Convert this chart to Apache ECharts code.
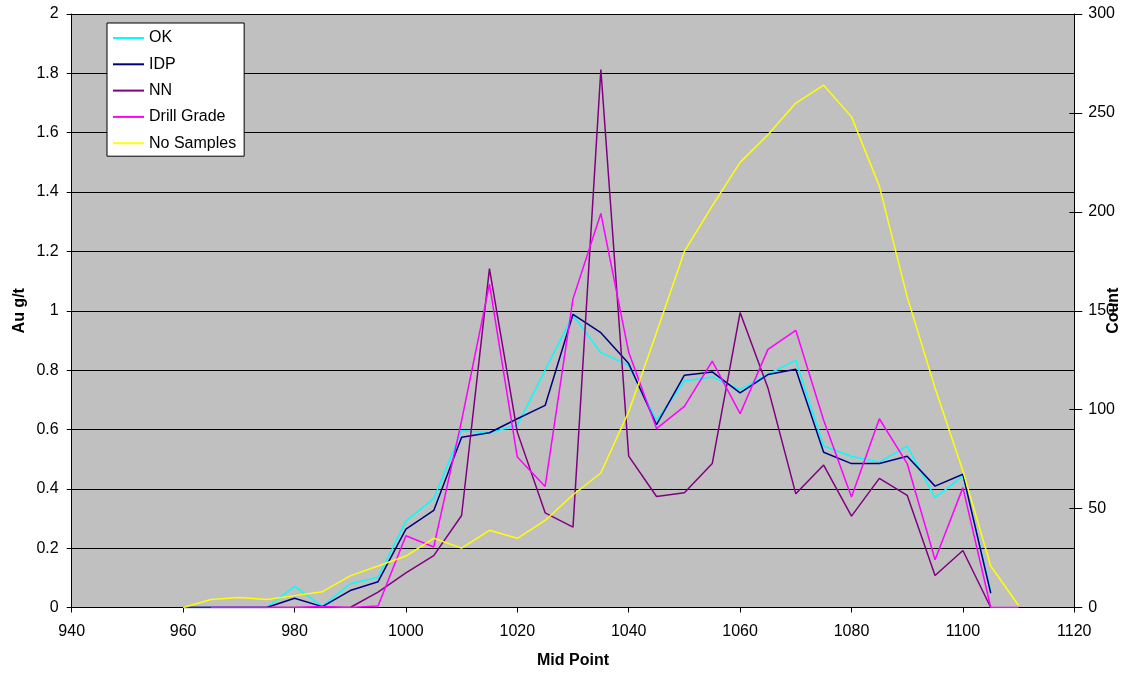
<!DOCTYPE html>
<html>
<head>
<meta charset="utf-8">
<style>
  html, body { margin: 0; padding: 0; background: #fff; }
  #chart { width: 1132px; height: 675px; }
</style>
<script src="https://cdn.jsdelivr.net/npm/echarts@6/dist/echarts.min.js"></script>
</head>
<body>
<div id="chart"></div>
<script>
// Grade-by-elevation profile: estimated grades vs drill grade, with sample counts
const midPoints = [960, 965, 970, 975, 980, 985, 990, 995, 1000, 1005, 1010, 1015, 1020, 1025, 1030, 1035,
                   1040, 1045, 1050, 1055, 1060, 1065, 1070, 1075, 1080, 1085, 1090, 1095, 1100, 1105, 1110];
const okGrade    = [0, 0, 0, 0, 0.071, 0.004, 0.08, 0.102, 0.291, 0.367, 0.596, 0.589, 0.614, 0.80, 0.985, 0.859,
                    0.816, 0.631, 0.763, 0.777, 0.734, 0.786, 0.833, 0.544, 0.509, 0.49, 0.544, 0.37, 0.443, 0.055, null];
const idpGrade   = [0, 0, 0, 0, 0.031, 0.003, 0.057, 0.087, 0.264, 0.327, 0.574, 0.589, 0.636, 0.681, 0.988, 0.926,
                    0.822, 0.616, 0.783, 0.794, 0.723, 0.785, 0.803, 0.523, 0.485, 0.485, 0.51, 0.409, 0.449, 0.048, null];
const nnGrade    = [0, 0, 0, 0, 0, 0, 0, 0.052, 0.117, 0.175, 0.31, 1.142, 0.591, 0.319, 0.271, 1.813,
                    0.51, 0.374, 0.387, 0.485, 0.994, 0.74, 0.383, 0.48, 0.308, 0.435, 0.378, 0.108, 0.192, 0, null];
const drillGrade = [null, 0, 0, 0, 0, 0.003, 0, 0.005, 0.242, 0.204, 0.63, 1.09, 0.507, 0.408, 1.04, 1.328,
                    0.86, 0.603, 0.678, 0.83, 0.653, 0.87, 0.934, 0.631, 0.372, 0.636, 0.485, 0.161, 0.404, 0, 0];
const sampleCount = [0, 4, 5, 4, 6, 8, 16, 21, 26, 35, 30, 39, 35, 44, 57, 68,
                     99, 139, 180, 203, 225, 239, 255, 264, 248, 213, 157, 111, 69, 21, 1];

const FONT = 'Liberation Sans, Arial, sans-serif';

function pairs(values) {
  const out = [];
  midPoints.forEach((x, i) => { if (values[i] !== null) out.push([x, values[i]]); });
  return out;
}

function lineSeries(name, color, values, yAxisIndex) {
  return {
    name: name,
    type: 'line',
    yAxisIndex: yAxisIndex,
    data: pairs(values),
    symbol: 'none',
    lineStyle: { color: color, width: 1.5 },
    itemStyle: { color: color },
    animation: false
  };
}

const plainNumber = v => String(v);

const chart = echarts.init(document.getElementById('chart'), null, { renderer: 'canvas' });

chart.setOption({
  backgroundColor: '#ffffff',
  textStyle: { fontFamily: FONT },
  grid: {
    left: 71.7, right: 57.7, top: 14, bottom: 67.5,
    outerBoundsMode: 'none',
    containLabel: false,
    show: true, backgroundColor: '#C0C0C0', borderWidth: 0
  },
  legend: {
    orient: 'vertical',
    left: 107, top: 23,
    padding: [7, 8, 5, 5],
    itemWidth: 31, itemHeight: 14, itemGap: 10.3,
    backgroundColor: '#ffffff',
    borderColor: '#000000', borderWidth: 1,
    itemStyle: { opacity: 0 },
    textStyle: { fontFamily: FONT, fontSize: 16, color: '#000' },
    data: ['OK', 'IDP', 'NN', 'Drill Grade', 'No Samples']
  },
  xAxis: {
    type: 'value',
    min: 940, max: 1120, interval: 20,
    name: 'Mid Point',
    nameLocation: 'middle',
    nameGap: 45,
    nameMoveOverlap: false,
    nameTextStyle: { fontFamily: FONT, fontSize: 16, fontWeight: 'bold', color: '#000' },
    axisLine: { show: true, onZero: false, lineStyle: { color: '#000', width: 1 } },
    axisTick: { show: true, length: 5, lineStyle: { color: '#000' } },
    axisLabel: { fontFamily: FONT, fontSize: 16, color: '#000', margin: 16, formatter: plainNumber },
    splitLine: { show: false }
  },
  yAxis: [
    {
      type: 'value',
      min: 0, max: 2, interval: 0.2,
      position: 'left',
      name: 'Au g/t',
      nameLocation: 'middle',
      nameRotate: 90,
      nameGap: 44,
      nameMoveOverlap: false,
      nameTextStyle: { fontFamily: FONT, fontSize: 16, fontWeight: 'bold', color: '#000' },
      axisLine: { show: true, lineStyle: { color: '#000', width: 1 } },
      axisTick: { show: true, length: 5, lineStyle: { color: '#000' } },
      axisLabel: { fontFamily: FONT, fontSize: 16, color: '#000', margin: 13 },
      splitLine: { show: true, lineStyle: { color: '#000', width: 1 } }
    },
    {
      type: 'value',
      min: 0, max: 300, interval: 50,
      position: 'right',
      name: 'Count',
      nameLocation: 'middle',
      nameRotate: 90,
      nameGap: 31,
      nameMoveOverlap: false,
      nameTextStyle: { fontFamily: FONT, fontSize: 16, fontWeight: 'bold', color: '#000' },
      axisLine: { show: true, lineStyle: { color: '#000', width: 1 } },
      axisTick: { show: true, length: 8, lineStyle: { color: '#000' } },
      axisLabel: { fontFamily: FONT, fontSize: 16, color: '#000', margin: 14 },
      splitLine: { show: false }
    },
    {
      // inner half of the crossing ticks on the count axis
      type: 'value',
      min: 0, max: 300, interval: 50,
      position: 'right',
      offset: 0,
      axisLine: { show: false },
      axisTick: { show: true, inside: true, length: 5, lineStyle: { color: '#000' } },
      axisLabel: { show: false },
      splitLine: { show: false }
    }
  ],
  series: [
    lineSeries('OK', '#00FFFF', okGrade, 0),
    lineSeries('IDP', '#000080', idpGrade, 0),
    lineSeries('NN', '#800080', nnGrade, 0),
    lineSeries('Drill Grade', '#FF00FF', drillGrade, 0),
    lineSeries('No Samples', '#FFFF00', sampleCount, 1)
  ]
});
</script>
</body>
</html>
